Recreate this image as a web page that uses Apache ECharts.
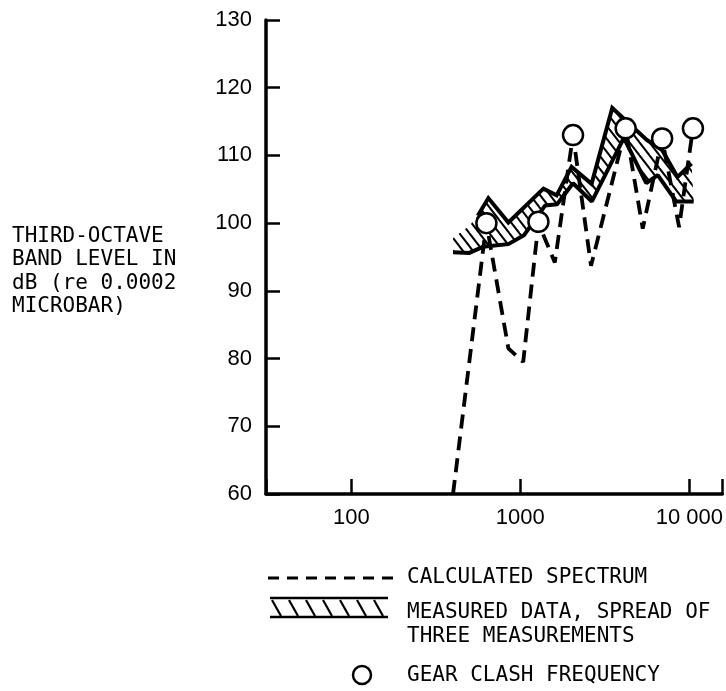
<!DOCTYPE html>
<html><head><meta charset="utf-8">
<script src="https://cdn.jsdelivr.net/npm/echarts@6/dist/echarts.min.js"></script>
<style>html,body{margin:0;padding:0;background:#fff}#c{width:726px;height:691px}</style>
</head><body><div id="c"></div>
<script>
// ---- data (frequency in Hz, level in dB) ----
const xTickLabels = {100: '100', 1000: '1000', 10000: '10 000'};
const yTicks = [60, 70, 80, 90, 100, 110, 120, 130];
const calcFreq  = [400, 630, 850, 1040, 1280, 1600, 2050, 2620, 4200, 5300, 6900, 8700, 10500];
const calcLevel = [60, 100, 81.5, 79.5, 100, 94.2, 113, 93.7, 114, 99.2, 112.5, 99.4, 114];
const upperFreq  = [400, 500, 560, 647, 850, 1370, 1640, 2010, 2640, 3500, 5600, 6900, 8500, 10300];
const upperLevel = [97.8, 99.6, 101.1, 103.7, 100.1, 105.1, 104.1, 108.3, 105.8, 117.0, 112.3, 110.8, 106.8, 108.8];
const lowerFreq  = [400, 500, 600, 850, 1050, 1400, 1650, 2050, 2650, 4100, 5560, 6500, 8360, 10600];
const lowerLevel = [95.7, 95.6, 96.5, 96.9, 98.2, 102.6, 102.8, 105.9, 103.2, 112.6, 105.9, 107.1, 103.2, 103.2];
const clashFreq  = [630, 1280, 2050, 4200, 6900, 10500];
const clashLevel = [100, 100.2, 113, 114, 112.5, 114];
const legendTexts = ['CALCULATED SPECTRUM', 'MEASURED DATA, SPREAD OF', 'THREE MEASUREMENTS', 'GEAR CLASH FREQUENCY'];
const yTitle = ['THIRD-OCTAVE', 'BAND LEVEL IN', 'dB (re 0.0002', 'MICROBAR)'];

const pairs = (xs, ys) => xs.map((x, i) => [x, ys[i]]);

// hatch pattern "\\\\"
function makeHatch(w, h, lw) {
  const c = document.createElement('canvas');
  c.width = w; c.height = h;
  const g = c.getContext('2d');
  g.strokeStyle = '#000'; g.lineWidth = lw;
  for (let k = -1; k <= 1; k++) {
    g.beginPath();
    g.moveTo(k * w - w, -h);
    g.lineTo(k * w + 2 * w, 2 * h);
    g.stroke();
  }
  return c;
}
const hatch = makeHatch(10, 13, 2);

const chart = echarts.init(document.getElementById('c'), null, {renderer: 'canvas'});
const mono = 'DejaVu Sans Mono';
const sans = 'Liberation Sans';

const graphics = [];
// y-axis title
graphics.push({type: 'text', left: 12, top: 225, style: {text: yTitle.join('\n'), font: '21px "' + mono + '"', lineHeight: 23.3, fill: '#000'}});
// legend: dashed
graphics.push({type: 'line', shape: {x1: 268, y1: 578, x2: 396, y2: 578}, style: {stroke: '#000', lineWidth: 3, lineDash: [11, 8]}});
graphics.push({type: 'text', x: 407, y: 578, style: {text: legendTexts[0], font: '21px "' + mono + '"', fill: '#000', verticalAlign: 'middle'}});
// legend: hatch
graphics.push({type: 'line', shape: {x1: 270, y1: 598, x2: 388, y2: 598}, style: {stroke: '#000', lineWidth: 2.5}});
graphics.push({type: 'line', shape: {x1: 270, y1: 617, x2: 388, y2: 617}, style: {stroke: '#000', lineWidth: 2.5}});
for (let i = 0; i < 7; i++) {
  const x0 = 272 + i * 17;
  graphics.push({type: 'line', shape: {x1: x0, y1: 600, x2: x0 + 9, y2: 616}, style: {stroke: '#000', lineWidth: 2.2}});
}
graphics.push({type: 'text', x: 407, y: 613, style: {text: legendTexts[1], font: '21px "' + mono + '"', fill: '#000', verticalAlign: 'middle'}});
graphics.push({type: 'text', x: 407, y: 637, style: {text: legendTexts[2], font: '21px "' + mono + '"', fill: '#000', verticalAlign: 'middle'}});
// legend: circle
graphics.push({type: 'circle', shape: {cx: 362, cy: 675, r: 9}, style: {stroke: '#000', lineWidth: 2.5, fill: '#fff'}});
graphics.push({type: 'text', x: 407, y: 676, style: {text: legendTexts[3], font: '21px "' + mono + '"', fill: '#000', verticalAlign: 'middle'}});

chart.setOption({
  animation: false,
  backgroundColor: '#fff',
  grid: {left: 266, right: 3, top: 20, bottom: 197, containLabel: false},
  xAxis: {
    type: 'log', logBase: 10, min: 31.3, max: 15670,
    axisLine: {show: true, lineStyle: {color: '#000', width: 3.5}},
    axisTick: {show: true, inside: true, length: 15, lineStyle: {color: '#000', width: 2.5}},
    splitLine: {show: false},
    axisLabel: {
      margin: 13, color: '#000', fontFamily: sans, fontSize: 22,
      formatter: v => {
        const lg = Math.log10(v), r = Math.round(lg);
        if (Math.abs(lg - r) < 1e-6) { const k = Math.pow(10, r); return xTickLabels[k] || ''; }
        return '';
      }
    }
  },
  yAxis: {
    type: 'value', min: yTicks[0], max: yTicks[yTicks.length - 1], interval: 10,
    axisLine: {show: true, lineStyle: {color: '#000', width: 3.5}},
    axisTick: {show: true, inside: true, length: 14, lineStyle: {color: '#000', width: 2.5}},
    splitLine: {show: false},
    axisLabel: {margin: 14, color: '#000', fontFamily: sans, fontSize: 22}
  },
  graphic: graphics,
  series: [
    {
      type: 'custom', z: 1, silent: true,
      data: [[upperFreq[0], upperLevel[0]]],
      renderItem: (params, api) => {
        const pts = [];
        upperFreq.forEach((f, i) => pts.push(api.coord([f, upperLevel[i]])));
        for (let i = lowerFreq.length - 1; i >= 0; i--) pts.push(api.coord([lowerFreq[i], lowerLevel[i]]));
        return {type: 'polygon', shape: {points: pts}, style: {fill: {image: hatch, repeat: 'repeat'}, stroke: null}};
      }
    },
    {
      type: 'line', z: 3, data: pairs(upperFreq.slice(2), upperLevel.slice(2)), symbol: 'none',
      lineStyle: {color: '#000', width: 4, join: 'miter'}
    },
    {
      type: 'line', z: 3, data: pairs(lowerFreq, lowerLevel), symbol: 'none',
      lineStyle: {color: '#000', width: 4}
    },
    {
      type: 'line', z: 4, data: pairs(calcFreq, calcLevel), symbol: 'none',
      lineStyle: {color: '#000', width: 3.8, type: [14, 8]}
    },
    {
      type: 'scatter', z: 6, data: pairs(clashFreq, clashLevel), symbol: 'circle', symbolSize: 20,
      itemStyle: {color: '#fff', borderColor: '#000', borderWidth: 2.5, opacity: 1}
    }
  ]
});
</script>
</body></html>
